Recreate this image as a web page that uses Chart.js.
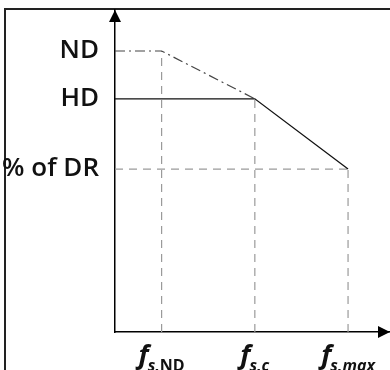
<!DOCTYPE html>
<html>
<head>
<meta charset="utf-8">
<script src="https://cdn.jsdelivr.net/npm/chart.js@4.4.1/dist/chart.umd.min.js"></script>
<style>
  html, body { margin: 0; padding: 0; background: #fff; }
  #wrap { position: relative; width: 390px; height: 370px; overflow: hidden; }
  #frame { position: absolute; left: 4px; top: 8px; width: 400px; height: 400px;
           border-top: 2px solid #222; border-left: 2px solid #222; }
  #wrap canvas { position: absolute; left: 0; top: 0; }
</style>
</head>
<body>
<div id="wrap">
  <div id="frame"></div>
  <canvas id="myChart" width="390" height="370"></canvas>
</div>
<script>
// switching frequency positions (arbitrary units) and load levels (% of rated)
var xTickValues = [1, 3, 5];
var xTickLabels = [["f", "s,", "ND"], ["f", "s,c", ""], ["f", "s,max", ""]];
var yTickValues = [58, 83, 100];
var yTickLabels = ["% of DR", "HD", "ND"];

// normal duty curve (dash-dot)
var ndX = [0, 1, 3];
var ndY = [100, 100, 83];
// heavy duty curve (solid)
var hdX = [0, 3, 5];
var hdY = [83, 83, 58];

function pts(xs, ys) {
    return xs.map(function (x, i) { return { x: x, y: ys[i] }; });
}

var guideStyle = {
    borderColor: '#9a9a9a',
    borderWidth: 1.2,
    borderDash: [8, 6],
    pointRadius: 0,
    fill: false,
    clip: false,
    order: 5
};

function guide(data) {
    return Object.assign({ data: data }, guideStyle);
}

var arrowsAndLabels = {
    id: 'arrowsAndLabels',
    afterDraw: function (chart) {
        var c = chart.ctx, a = chart.chartArea, xs = chart.scales.x;
        c.save();
        c.fillStyle = '#000';
        // y arrow
        c.beginPath();
        c.moveTo(a.left, a.top);
        c.lineTo(a.left - 6, a.top + 12);
        c.lineTo(a.left + 6, a.top + 12);
        c.closePath();
        c.fill();
        // x arrow
        c.beginPath();
        c.moveTo(a.right, a.bottom);
        c.lineTo(a.right - 12, a.bottom - 6);
        c.lineTo(a.right - 12, a.bottom + 6);
        c.closePath();
        c.fill();

        // x tick labels: italic f with subscript
        c.fillStyle = '#111';
        c.textBaseline = 'alphabetic';
        c.textAlign = 'left';
        xTickValues.forEach(function (v, i) {
            var parts = xTickLabels[i];
            var fFont = 'italic 700 27px "Open Sans"';
            var sFont = 'italic 700 16px "Open Sans"';
            var uFont = '700 16px "Open Sans"';
            c.font = fFont; var w0 = c.measureText(parts[0]).width;
            c.font = sFont; var w1 = c.measureText(parts[1]).width;
            c.font = uFont; var w2 = c.measureText(parts[2]).width;
            var x = xs.getPixelForValue(v) - (w0 + w1 + w2 - 1) / 2;
            c.font = fFont; c.fillText(parts[0], x, a.bottom + 32);
            x += w0 - 1;
            c.font = sFont; c.fillText(parts[1], x, a.bottom + 39);
            x += w1;
            c.font = uFont; c.fillText(parts[2], x, a.bottom + 39);
        });
        c.restore();
    }
};

var ctx = document.getElementById('myChart').getContext('2d');
var chart = new Chart(ctx, {
    type: 'line',
    data: {
        datasets: [{
            label: 'HD',
            data: pts(hdX, hdY),
            borderColor: '#111',
            borderWidth: 1.3,
            pointRadius: 0,
            fill: false,
            clip: false,
            order: 1
        }, {
            label: 'ND',
            data: pts(ndX, ndY),
            borderColor: '#444',
            borderWidth: 1.2,
            borderDash: [10, 4, 2, 4],
            pointRadius: 0,
            fill: false,
            clip: false,
            order: 2
        },
            guide([{ x: xTickValues[0], y: 0 }, { x: xTickValues[0], y: ndY[1] }]),
            guide([{ x: xTickValues[1], y: 0 }, { x: xTickValues[1], y: hdY[1] }]),
            guide([{ x: xTickValues[2], y: 0 }, { x: xTickValues[2], y: hdY[2] }]),
            guide([{ x: 0, y: hdY[2] }, { x: xTickValues[2], y: hdY[2] }])
        ]
    },
    options: {
        responsive: false,
        animation: false,
        layout: { padding: { top: 10, right: 0, bottom: 38, left: 0 } },
        plugins: { legend: { display: false }, tooltip: { enabled: false } },
        elements: { line: { tension: 0 } },
        scales: {
            x: {
                type: 'linear',
                min: 0,
                max: 5.9,
                afterFit: function (scale) {
                    scale.height = 0;
                    scale.paddingLeft = 0; scale.paddingRight = 0;
                },
                ticks: { display: false },
                grid: { display: false, drawTicks: false },
                border: { display: true, color: '#000', width: 1.5 }
            },
            y: {
                min: 0,
                max: 114.6,
                afterFit: function (scale) {
                    scale.width = 115;
                    scale.paddingTop = 0; scale.paddingBottom = 0;
                },
                afterBuildTicks: function (scale) {
                    scale.ticks = yTickValues.map(function (v) { return { value: v }; });
                },
                ticks: {
                    padding: 16,
                    color: '#111',
                    font: { family: '"Open Sans"', size: 26, weight: 600 },
                    callback: function (value) {
                        var i = yTickValues.indexOf(value);
                        return i >= 0 ? yTickLabels[i] : '';
                    }
                },
                grid: { display: false, drawTicks: false },
                border: { display: true, color: '#000', width: 1.5 }
            }
        }
    },
    plugins: [arrowsAndLabels]
});
</script>
</body>
</html>
